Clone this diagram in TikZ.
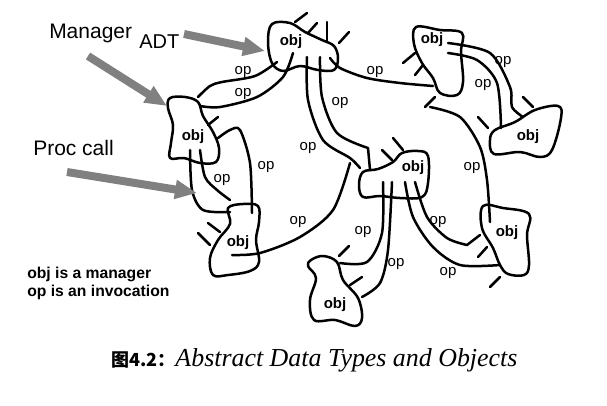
\documentclass[tikz,border=0pt]{standalone}
\usepackage{fontspec}
\setmainfont{Liberation Sans}
\newfontfamily\capfont{Liberation Serif}
\newfontfamily\cjk{Noto Sans CJK SC}
\usetikzlibrary{arrows.meta}
\definecolor{callgray}{RGB}{128,128,128}

\begin{document}
\begin{tikzpicture}[x=1pt,y=-1pt,line width=2.5pt,line cap=round,line join=round]
      \useasboundingbox (0,0) rectangle (607,405);

      % the managers (blobs)
      \begin{scope}[every path/.style={draw}]
        \draw plot[smooth cycle,tension=.6] coordinates {(272,24) (290,23) (305,32) (322,40) (334,46) (338,58) (334,70) (318,70) (300,66) (283,71) (272,63) (268,42)};
        \draw plot[smooth cycle,tension=.6] coordinates {(170,98) (185,97) (198,102) (203,116) (213,132) (219,148) (216,162) (200,163) (184,158) (170,158) (171,143) (173,125) (168,108)};
        \draw plot[smooth cycle,tension=.6] coordinates {(228,208) (243,204) (258,206) (259,222) (256,240) (259,262) (250,271) (228,275) (213,275) (210,258) (218,240) (230,224)};
        \draw plot[smooth cycle,tension=.6] coordinates {(416,27) (440,30) (462,33) (461,52) (463,82) (457,95) (440,93) (433,78) (422,63) (414,44)};
        \draw plot[smooth cycle,tension=.6] coordinates {(495,130) (515,122) (535,110) (558,106) (561,118) (552,150) (540,157) (520,152) (494,154) (490,140)};
        \draw plot[smooth cycle,tension=.6] coordinates {(363,172) (378,169) (393,162) (402,153) (418,151) (428,156) (428,183) (422,197) (400,198) (380,196) (363,197) (359,185)};
        \draw plot[smooth cycle,tension=.6] coordinates {(483,206) (503,208) (529,214) (527,235) (529,265) (524,275) (508,274) (500,265) (493,248) (482,228)};
        \draw plot[smooth cycle,tension=.6] coordinates {(311,260) (323,256) (337,262) (343,280) (358,298) (362,318) (355,326) (335,320) (314,320) (310,300) (316,278) (308,266)};
      \end{scope}

      \begin{scope}[every node/.style={font=\bfseries\fontsize{15}{17}\selectfont}]
        \node (adt)   at (291,42)  {obj};
        \node (mgr)   at (193,137) {obj};
        \node (proc)  at (238,243) {obj};
        \node (nw)    at (432,40)  {obj};
        \node (ne)    at (528,137) {obj};
        \node (mid)   at (413,168) {obj};
        \node (se)    at (507,233) {obj};
        \node (low)   at (335,305) {obj};
      \end{scope}

      % the invocations
      \draw plot[smooth] coordinates {(277,62) (255,76) (222,82) (210,86) (198,97)};
      \draw plot[smooth] coordinates {(293,53) (283,77) (257,97) (220,107) (200,106)};
      \draw plot[smooth] coordinates {(330,58) (340,68) (367,78) (400,83) (433,86)};
      \draw plot[smooth] coordinates {(307,57) (308,100) (323,140) (350,158) (360,168)};
      \draw plot[smooth] coordinates {(320,57) (322,97) (337,133) (368,148)} -- (370,170);
      \draw plot[smooth] coordinates {(190,150) (192,190) (203,210) (230,212)};
      \draw plot[smooth] coordinates {(200,150) (205,177) (217,190) (230,200)};
      \draw plot[smooth] coordinates {(218,138) (230,130) (240,130) (250,163) (252,213)};
      \draw plot[smooth] coordinates {(232,255) (260,253) (300,237) (333,210) (350,163)};
      \draw plot[smooth] coordinates {(383,182) (382,233) (367,262) (340,263)};
      \draw plot[smooth] coordinates {(392,182) (388,250) (380,283) (362,297)};
      \draw plot[smooth] coordinates {(415,182) (427,217) (447,238) (467,245)} -- (480,235);
      \draw plot[smooth] coordinates {(405,182) (413,217) (433,247) (460,265) (500,265)};
      \draw plot[smooth] coordinates {(448,43) (490,53) (510,87) (512,107) (523,117)};
      \draw plot[smooth] coordinates {(448,53) (477,60) (497,83) (501,128)};
      \draw plot[smooth] coordinates {(430,107) (460,117) (480,147) (487,180) (490,222)};

      % loose ends
      \draw (295,22) -- (307,13);
      \draw (308,33) -- (317,23);
      \draw (327,22) -- (327,42);
      \draw (339,43) -- (349,32);
      \draw (208,125) -- (218,117);
      \draw (198,233) -- (210,245);
      \draw (208,223) -- (220,232);
      \draw (403,63) -- (415,53);
      \draw (415,75) -- (423,65);
      \draw (425,107) -- (435,97);
      \draw (523,97) -- (533,107);
      \draw (478,117) -- (488,128);
      \draw (393,138) -- (403,150);
      \draw (382,150) -- (392,160);
      \draw (339,256) -- (349,246);
      \draw (350,285) -- (362,277);
      \draw (478,257) -- (487,247);
      \draw (490,287) -- (500,277);

      \begin{scope}[every node/.style={font=\fontsize{15}{17}\selectfont}]
        \node (op1)  at (243,72)  {op};
        \node (op2)  at (243,94)  {op};
        \node (op3)  at (375,72)  {op};
        \node (op4)  at (340,103) {op};
        \node (op5)  at (308,148) {op};
        \node (op6)  at (266,167) {op};
        \node (op7)  at (222,180) {op};
        \node (op8)  at (298,222) {op};
        \node (op9)  at (363,232) {op};
        \node (op10) at (396,264) {op};
        \node (op11) at (438,222) {op};
        \node (op12) at (448,273) {op};
        \node (op13) at (503,62)  {op};
        \node (op14) at (483,85)  {op};
        \node (op15) at (472,168) {op};
      \end{scope}

      % the callers
      \begin{scope}[every node/.style={anchor=base west,inner sep=0pt,font=\fontsize{21}{24}\selectfont}]
        \node (manager) at (48,38)  {Manager};
        \node[font=\fontsize{20}{24}\selectfont] (adtlbl) at (138,48) {ADT};
        \node (call)    at (32,155) {Proc call};
      \end{scope}
      \begin{scope}[callgray,line width=8pt,line cap=butt,-{Triangle[length=22pt,width=18pt]}]
        \draw (88,56) -- (167,106);
        \draw (184,34) -- (265,51);
        \draw (67,172) -- (197,193);
      \end{scope}

      \begin{scope}[every node/.style={anchor=base west,inner sep=0pt,font=\bfseries\fontsize{15.7}{18}\selectfont}]
        \node (key1) at (26,278) {obj is a manager};
        \node (key2) at (26,296) {op is an invocation};
      \end{scope}

      \node[anchor=base west,inner sep=0pt] (caption) at (110,366)
        {{\cjk\bfseries\fontsize{18}{20}\selectfont 图4.2：}{\capfont\itshape\fontsize{25.9}{28}\selectfont Abstract Data Types and Objects}};

    \end{tikzpicture}
\end{document}
